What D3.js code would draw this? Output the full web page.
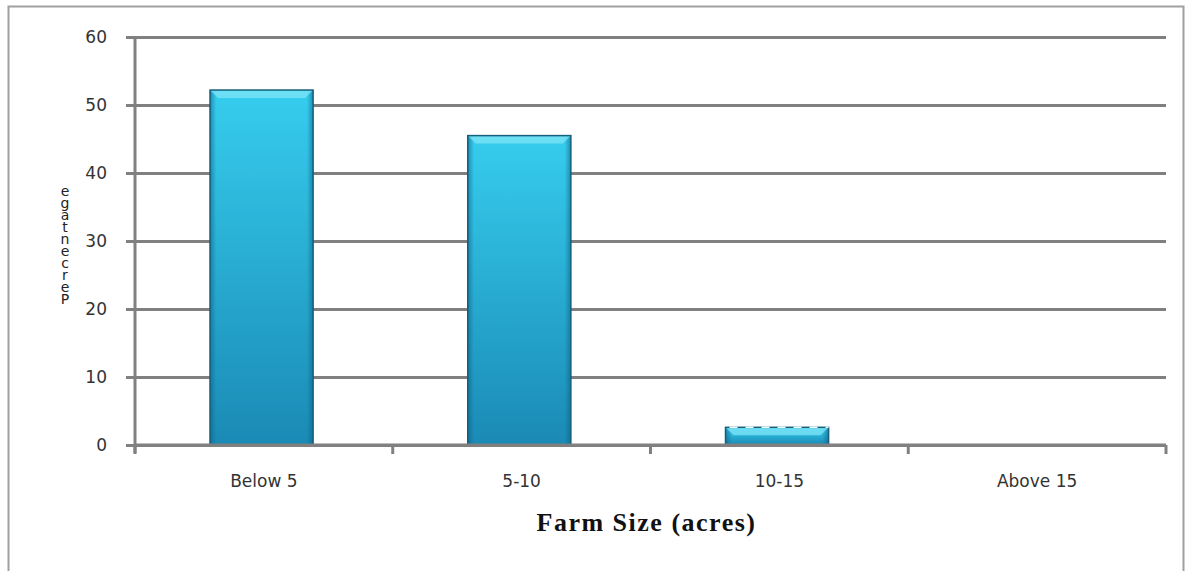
<!DOCTYPE html>
<html>
<head>
<meta charset="utf-8">
<script src="https://cdn.jsdelivr.net/npm/d3@7"></script>
<style>
  html, body { margin: 0; padding: 0; background: #fff; }
  svg { display: block; }
</style>
</head>
<body>
<div id="chart"></div>
<script>
// Farm size distribution (% of respondents)
const categories = ["Below 5", "5-10", "10-15", "Above 15"];
const percentages = [52.2, 45.5, 2.6, 0];
const yTicks = [0, 10, 20, 30, 40, 50, 60];
const xTitle = "Farm Size (acres)";
const yTitle = "Percentage";

const W = 1191, H = 571;
const margin = { left: 135, right: 25, top: 37, bottom: 126 };

const svg = d3.select("#chart").append("svg")
  .attr("width", W).attr("height", H);

// outer frame (open at the bottom)
svg.append("path")
  .attr("d", "M8.5,571 L8.5,6.5 L1183.5,6.5 L1183.5,571")
  .attr("fill", "none").attr("stroke", "#a0a0a0").attr("stroke-width", 2);

const x = d3.scaleBand().domain(categories)
  .range([margin.left, W - margin.right])
  .paddingInner(0.6).paddingOuter(0.3).align(0.485);
const y = d3.scaleLinear().domain([0, 60]).range([H - margin.bottom, margin.top]);

const defs = svg.append("defs");
const grad = defs.append("linearGradient").attr("id", "barFill")
  .attr("x1", 0).attr("y1", 0).attr("x2", 0).attr("y2", 1);
grad.append("stop").attr("offset", "0%").attr("stop-color", "#36cdee");
grad.append("stop").attr("offset", "100%").attr("stop-color", "#1a8ab5");
const side = defs.append("linearGradient").attr("id", "sideShade")
  .attr("x1", 0).attr("y1", 0).attr("x2", 1).attr("y2", 0);
side.append("stop").attr("offset", "0%").attr("stop-color", "#0b5d80").attr("stop-opacity", 0.55);
side.append("stop").attr("offset", "6%").attr("stop-color", "#0b5d80").attr("stop-opacity", 0);
side.append("stop").attr("offset", "94%").attr("stop-color", "#0b5d80").attr("stop-opacity", 0);
side.append("stop").attr("offset", "100%").attr("stop-color", "#0b5d80").attr("stop-opacity", 0.55);

const labelFont = "DejaVu Sans, Verdana, sans-serif";

// horizontal grid lines with left tick stubs
const yAxis = d3.axisLeft(y).tickValues(yTicks)
  .tickSize(-(W - margin.right - margin.left) - 9).tickPadding(19);
const gy = svg.append("g").attr("transform", `translate(${margin.left - 9},0)`).call(yAxis);
gy.select(".domain").remove();
gy.selectAll(".tick line").attr("stroke", "#808080").attr("stroke-width", 3);
gy.selectAll(".tick text")
  .attr("font-family", labelFont).attr("font-size", 17)
  .attr("fill", "#333");

// vertical axis line
svg.append("line")
  .attr("x1", margin.left).attr("x2", margin.left)
  .attr("y1", y(60)).attr("y2", y(0) + 8)
  .attr("stroke", "#808080").attr("stroke-width", 3);

// bars
const bars = svg.append("g").selectAll("g.bar").data(categories).join("g").attr("class", "bar");
bars.each(function(c, i) {
  const v = percentages[i];
  if (v <= 0) return;
  const g = d3.select(this);
  const bx = x(c), bw = x.bandwidth(), by = y(v), bh = y(0) - y(v);
  g.append("rect").attr("x", bx).attr("y", by).attr("width", bw).attr("height", bh)
    .attr("fill", "url(#barFill)");
  g.append("rect").attr("x", bx).attr("y", by).attr("width", bw).attr("height", bh)
    .attr("fill", "url(#sideShade)");
  // bevelled highlight along the top
  const bev = Math.min(8, bh * 0.6);
  g.append("path")
    .attr("d", `M${bx},${by} L${bx + bw},${by} L${bx + bw - bev},${by + bev} L${bx + bev},${by + bev} Z`)
    .attr("fill", "#7fe6f7").attr("opacity", 0.75);
  g.append("rect").attr("x", bx).attr("y", by).attr("width", bw).attr("height", bh)
    .attr("fill", "none").attr("stroke", "#155f7d").attr("stroke-width", 1.5);
  if (bh < 24) {
    // very short bars show their top edge as a dashed rim
    g.append("line")
      .attr("x1", bx + 4).attr("x2", bx + bw).attr("y1", by).attr("y2", by)
      .attr("stroke", "#f4fbfd").attr("stroke-width", 1.5)
      .attr("stroke-dasharray", "8,8");
  }
});

// horizontal axis with category separators
const baseY = y(0);
svg.append("line")
  .attr("x1", margin.left).attr("x2", W - margin.right)
  .attr("y1", baseY).attr("y2", baseY)
  .attr("stroke", "#808080").attr("stroke-width", 3);
const sepX = d3.range(categories.length + 1)
  .map(k => margin.left + k * (W - margin.right - margin.left) / categories.length);
svg.append("g").selectAll("line").data(sepX).join("line")
  .attr("x1", d => d).attr("x2", d => d)
  .attr("y1", baseY).attr("y2", baseY + 9)
  .attr("stroke", "#808080").attr("stroke-width", 3);

svg.append("g").selectAll("text").data(categories).join("text")
  .attr("x", (d, i) => (sepX[i] + sepX[i + 1]) / 2)
  .attr("y", baseY + 42)
  .attr("text-anchor", "middle")
  .attr("font-family", labelFont).attr("font-size", 17)
  .attr("fill", "#333")
  .text(d => d);

// axis titles
svg.append("text")
  .attr("x", (margin.left + W - margin.right) / 2 - 4).attr("y", 531)
  .attr("text-anchor", "middle")
  .attr("font-family", "Liberation Serif, Times New Roman, serif")
  .attr("font-weight", "bold").attr("font-size", 26)
  .attr("letter-spacing", 1.5)
  .attr("fill", "#111")
  .text(xTitle);

// vertical title: upright letters stacked bottom-to-top
svg.append("text")
  .attr("x", 65).attr("y", 183)
  .attr("font-family", labelFont).attr("font-size", 14)
  .attr("fill", "#222")
  .style("writing-mode", "vertical-rl")
  .style("text-orientation", "upright")
  .attr("letter-spacing", -4)
  .text(yTitle.split("").reverse().join(""));
</script>
</body>
</html>
